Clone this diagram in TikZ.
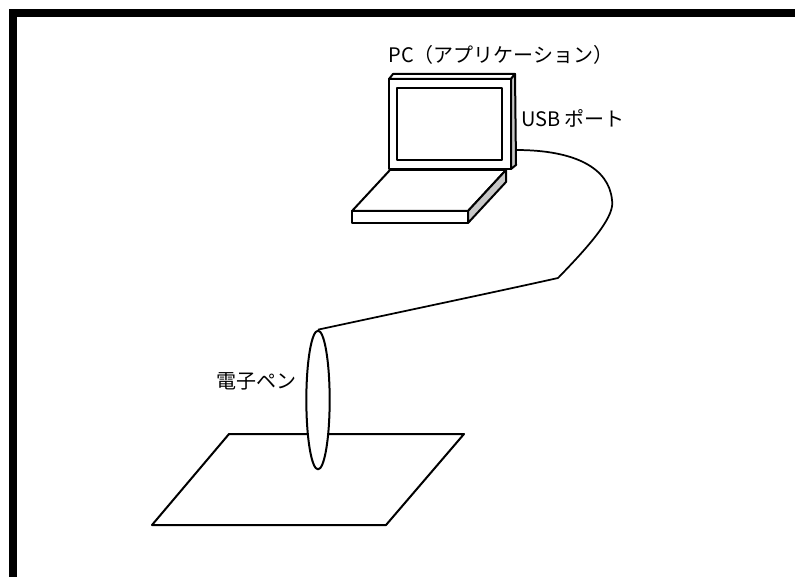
\documentclass[tikz,border=0pt]{standalone}
\usepackage{fontspec}
\setmainfont{Noto Sans CJK JP}
\usetikzlibrary{shapes.geometric}

\begin{document}
\begin{tikzpicture}[x=0.75pt,y=-0.75pt,line width=1.5pt,line join=round,
   caption/.style={inner sep=0pt,font=\fontsize{15}{17}\selectfont},
   side/.style={draw,fill=black!22},
   face/.style={draw,fill=white}]
   \useasboundingbox (0,0) rectangle (795,577);
   \fill (9,9) rectangle (795,17);
   \fill (9,9) rectangle (17,577);
   \draw[face] (352,211) -- (390,170) -- (506,170) -- (468,211) -- cycle;
   \draw[face] (352,211) rectangle (468,223);
   \draw[side] (468,211) -- (506,170) -- (506,182) -- (468,223) -- cycle;
   \draw[face] (389,79) -- (393,74) -- (515,74) -- (511,79) -- cycle;
   \draw[side] (511,79) -- (515,74) -- (516,165) -- (511,169) -- cycle;
   \draw[face] (389,79) rectangle (511,169);
   \draw (397,88) rectangle (502,160);
   \draw (229,434) -- (464,434) -- (386,525) -- (152,525) -- cycle;
   \node[ellipse,draw,fill=white,inner sep=0pt,minimum width=17.5pt,minimum height=104pt] (pen) at (318,400) {};
   \coordinate (port) at (516,150);
   \coordinate (kink) at (558,278);
   \node[caption,anchor=east] (penname) at (297,381) {電子ペン};
   \node[caption,anchor=west] (portname) at (520,118) {USB ポート};
   \node[caption] (pcname) at (501,55) {PC（アプリケーション）};
   \draw[line width=1.3pt] (pen.north) .. controls (400,312) and (500,291) .. (kink)
        .. controls (595,240) and (615,215) .. (612,200)
        .. controls (609,168) and (575,150) .. (port);
\end{tikzpicture}
\end{document}
